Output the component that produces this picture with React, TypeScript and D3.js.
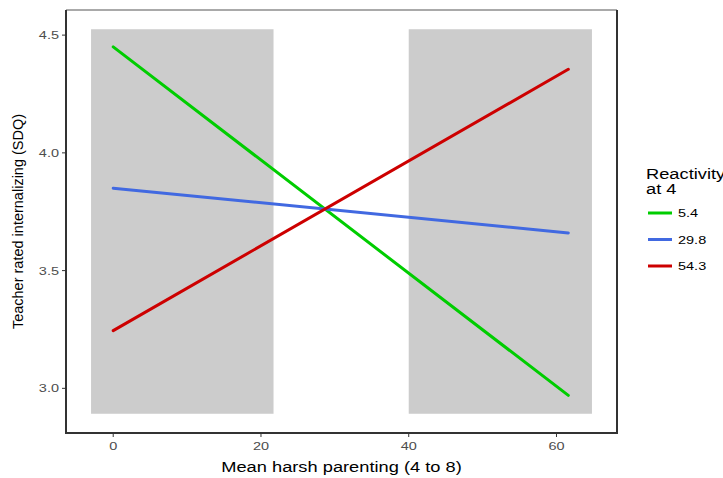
import React from "react";
import * as d3 from "d3";

const xTicks = [0, 20, 40, 60];
const yTicks = [3.0, 3.5, 4.0, 4.5];
const groups = ["5.4", "29.8", "54.3"];
const groupColors = ["#00cd00", "#4169e1", "#cd0000"];
const xStart = [0, 0, 0];
const xEnd = [61.6, 61.6, 61.6];
const yStart = [4.45, 3.85, 3.245];
const yEnd = [2.97, 3.66, 4.355];
const regionXmin = [-3.0, 40.0];
const regionXmax = [21.7, 64.8];
const regionYmin = 2.892;
const regionYmax = 4.525;

const SX = 1.26;

function T(props: { x: number; y: number; size: number; anchor?: string; fill?: string; dy?: string; sx?: number; children: React.ReactNode }) {
  const { x, y, size, anchor = "start", fill = "black", dy, sx = SX, children } = props;
  const tf = `translate(${x},${y}) scale(${sx},1)`;
  return (
    <text transform={tf} textAnchor={anchor} fontSize={size} fill={fill} dy={dy}>{children}</text>
  );
}

export default function App() {
  const W = 723, H = 478;
  const left = 66, right = 617, top = 10, bottom = 433;
  const x = d3.scaleLinear().domain([-6.39, 68.19]).range([left, right]);
  const y = d3.scaleLinear().domain([2.8103, 4.6067]).range([bottom, top]);
  const line = d3.line<[number, number]>().x(d => x(d[0])).y(d => y(d[1]));
  const font = "'Liberation Sans', Arial, sans-serif";
  return (
    <svg width={W} height={H} style={{ position: "absolute", left: 0, top: 0 }} fontFamily={font}>
      <rect x={0} y={0} width={W} height={H} fill="white" />
      {regionXmin.map((xm, i) => (
        <rect key={i} x={x(xm)} y={y(regionYmax)} width={x(regionXmax[i]) - x(xm)} height={y(regionYmin) - y(regionYmax)} fill="#cccccc" />
      ))}
      {groups.map((g, i) => (
        <path key={g} d={line([[xStart[i], yStart[i]], [xEnd[i], yEnd[i]]]) || ""} stroke={groupColors[i]} strokeWidth={3} fill="none" strokeLinecap="round" />
      ))}
      <line x1={left} x2={right} y1={top} y2={top} stroke="#555" strokeWidth={1} />
      <line x1={left} x2={left} y1={top} y2={bottom} stroke="#333" strokeWidth={2} />
      <line x1={right} x2={right} y1={top} y2={bottom + 1} stroke="#333" strokeWidth={2} />
      <line x1={left - 1} x2={right + 1} y1={bottom} y2={bottom} stroke="#333" strokeWidth={2} />
      {yTicks.map(t => (
        <g key={t}>
          <line x1={left - 4} x2={left} y1={y(t)} y2={y(t)} stroke="#333" strokeWidth={1} />
          <T x={left - 7} y={y(t)} dy="0.35em" anchor="end" size={11.5} fill="#4d4d4d">{t.toFixed(1)}</T>
        </g>
      ))}
      {xTicks.map(t => (
        <g key={t}>
          <line x1={x(t)} x2={x(t)} y1={bottom} y2={bottom + 4} stroke="#333" strokeWidth={1} />
          <T x={x(t)} y={450} anchor="middle" size={11.5} fill="#4d4d4d">{t}</T>
        </g>
      ))}
      <T x={(left + right) / 2} y={472} anchor="middle" size={14.5}>Mean harsh parenting (4 to 8)</T>
      <text transform={`translate(23,${(top + bottom) / 2}) rotate(-90)`} textAnchor="middle" fontSize={14.5} fill="black">Teacher rated internalizing (SDQ)</text>
      <T x={646} y={179} size={14.5}>Reactivity</T>
      <T x={646} y={194} size={14.5}>at 4</T>
      {groups.map((g, i) => (
        <g key={g}>
          <line x1={648} x2={672} y1={213 + i * 26.5} y2={213 + i * 26.5} stroke={groupColors[i]} strokeWidth={3} />
          <T x={678} y={213 + i * 26.5} dy="0.35em" size={11.5}>{g}</T>
        </g>
      ))}
    </svg>
  );
}
